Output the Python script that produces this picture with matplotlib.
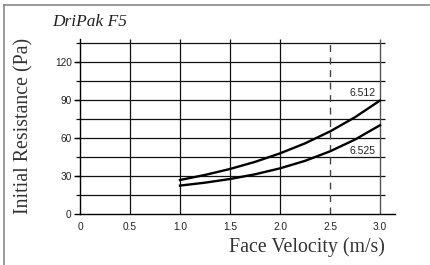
import numpy as np
import matplotlib.pyplot as plt

########

title = "DriPak F5"
xlabel = "Face Velocity (m/s)"
ylabel = "Initial Resistance (Pa)"

velocity = [1.0, 1.25, 1.5, 1.75, 2.0, 2.25, 2.5, 2.75, 3.0]
res_6512 = [26.8, 30.8, 35.5, 41.1, 47.8, 55.7, 65.1, 76.3, 89.5]
res_6525 = [22.4, 24.7, 27.6, 31.3, 36.0, 41.9, 49.4, 58.7, 70.0]

series_names = ["6.512", "6.525"]
label_pos = [(2.96, 95.5), (2.96, 50.0)]

xticks = [0, 0.5, 1.0, 1.5, 2.0, 2.5, 3.0]
xticklabels = ["0", "0.5", "1.0", "1.5", "2.0", "2.5", "3.0"]
yticks = [0, 30, 60, 90, 120]
hgrid = [15, 30, 45, 60, 75, 90, 105, 120, 135]
vgrid = [0.5, 1.0, 1.5, 2.0]
design_v = 2.5

########

W, H = 431, 265
fig = plt.figure(figsize=(W / 100, H / 100), dpi=100)

# frame lines (top and left only)
fig.add_artist(plt.Line2D([4 / W, 429 / W], [1 - 5 / H, 1 - 5 / H], color="#888888", lw=1.2))
fig.add_artist(plt.Line2D([4 / W, 4 / W], [0, 1 - 5 / H], color="#888888", lw=1.2))

ax = fig.add_axes([80 / W, 51 / H, 315 / W, 175 / H])
ax.set_xlim(0, 3.15)
ax.set_ylim(0, 138)

for s in ["top", "right"]:
    ax.spines[s].set_visible(False)
ax.spines["left"].set_linewidth(1.0)
ax.spines["bottom"].set_linewidth(1.0)

ax.hlines(hgrid, -0.04, 3.05, color="#111111", lw=0.9, zorder=1, clip_on=False)
ax.vlines(vgrid, 0, 138, color="#111111", lw=0.9, zorder=1)
ax.vlines([3.0], 0, 138, color="#555555", lw=1.0, zorder=1)
ax.vlines([design_v], 0, 138, color="#444444", lw=1.0, linestyles=(0, (5, 4)), zorder=1)

ax.plot(velocity, res_6512, color="k", lw=1.7, zorder=3)
ax.plot(velocity, res_6525, color="k", lw=1.7, zorder=3)

for name, (lx, ly) in zip(series_names, label_pos):
    ax.text(lx, ly, name, ha="right", va="center", fontsize=7.5,
            family="Liberation Sans", color="#222222")

ax.set_xticks(xticks)
ax.set_xticklabels(xticklabels)
ax.set_yticks(yticks)
ax.tick_params(axis="x", length=0, pad=6, labelsize=7.3)
ax.tick_params(axis="y", length=4, width=1.0, pad=2, labelsize=7.3)
for lab in ax.get_xticklabels() + ax.get_yticklabels():
    lab.set_family("Liberation Sans")
    lab.set_color("#222222")

fig.text(52 / W, 1 - 22 / H, title, ha="left", va="center", fontsize=12.5,
         family="Liberation Serif", style="italic", color="#222222")
fig.text(24 / W, 1 - 126 / H, ylabel, ha="center", va="center", rotation=90,
         fontsize=14.3, family="Liberation Serif", color="#333333")
fig.text(307 / W, 1 - 247 / H, xlabel, ha="center", va="center",
         fontsize=14.3, family="Liberation Serif", color="#333333")

plt.savefig("out.png", dpi=100)
